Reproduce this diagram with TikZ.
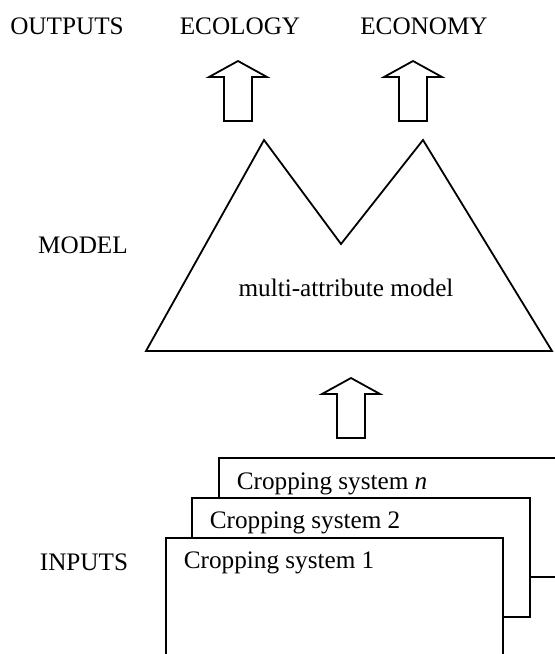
\documentclass[tikz,border=0pt]{standalone}
\usepackage{fontspec}
\setmainfont{Liberation Serif}
\begin{document}
\begin{tikzpicture}[x=0.5pt,y=-0.5pt,
  line width=0.9pt, line join=miter,
  lbl/.style={inner sep=0pt, font=\fontsize{12.6}{15}\selectfont},
  frame/.style={draw=black, fill=white},
  pics/uparrow/.style={code={
    \draw[frame] (0,0) -- (29,16) -- (14,16) -- (14,60) -- (-14,60) -- (-14,16) -- (-29,16) -- cycle;
  }}]
\useasboundingbox (0,0) rectangle (554,654);
% labels
\node[lbl] (outputs) at (67,26) {OUTPUTS};
\node[lbl] (ecology) at (240,26) {ECOLOGY};
\node[lbl] (economy) at (424,26) {ECONOMY};
\node[lbl] (modellbl) at (83,245) {MODEL};
\node[lbl] (inputs) at (84,562) {INPUTS};
% output arrows
\pic at (238,61) {uparrow};
\pic at (413,61) {uparrow};
% mountain
\draw[frame] (146,351) -- (264,140) -- (341,244) -- (423,140) -- (552,351) -- cycle;
\node[lbl] (mam) at (346,288) {multi-attribute model};
% input arrow
\pic at (351,378) {uparrow};
% cropping system boxes
\draw[frame] (219,458) rectangle (580,577);
\node[lbl, anchor=west] (csn) at (236,484) {Cropping system \textit{n}};
\draw[frame] (192,498) rectangle (530,617);
\node[lbl, anchor=west] (cs2) at (209,523) {Cropping system 2};
\draw[frame] (166,538) rectangle (503,660);
\node[lbl, anchor=west] (cs1) at (183,563) {Cropping system 1};
\end{tikzpicture}
\end{document}
